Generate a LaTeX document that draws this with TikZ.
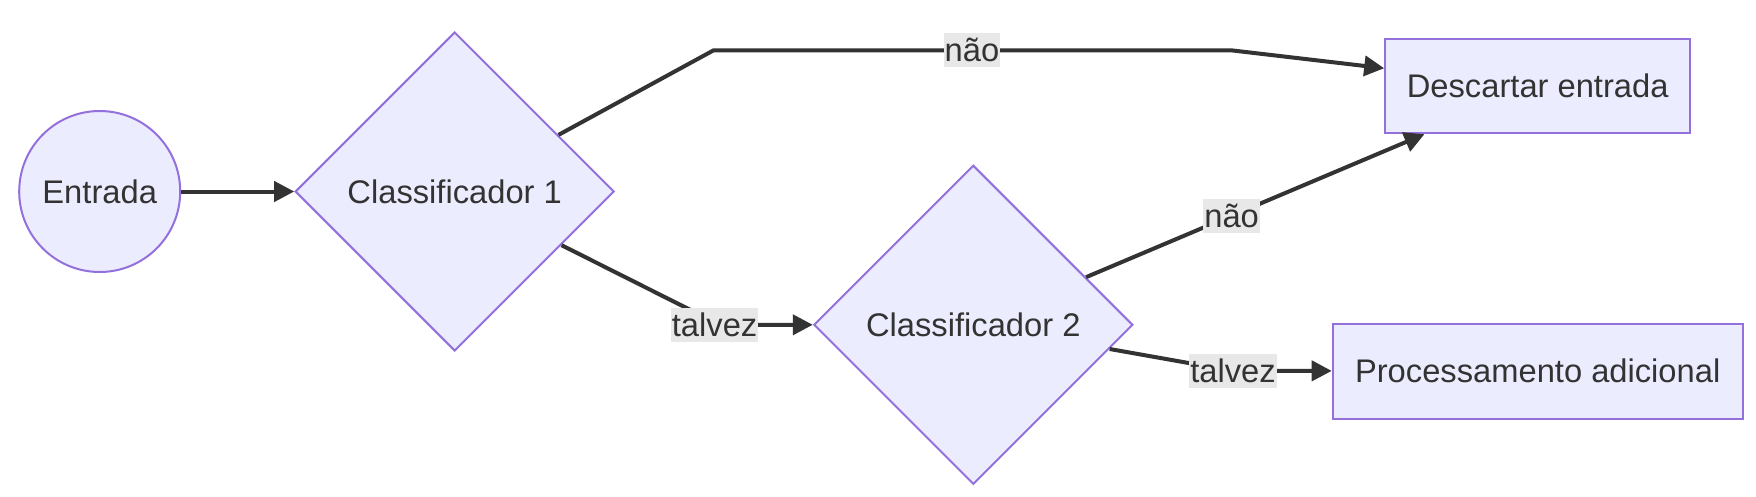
\documentclass[tikz,border=0pt]{standalone}
\usepackage{fontspec}
\setmainfont{Liberation Sans}
\usetikzlibrary{shapes.geometric,arrows.meta,calc}
\definecolor{nodefill}{HTML}{ECECFF}
\definecolor{nodeline}{HTML}{9370DB}
\definecolor{edgeline}{HTML}{333333}
\definecolor{labelbg}{HTML}{E8E8E8}
\begin{document}
\begin{tikzpicture}[x=1pt,y=-1pt,
  every node/.style={font=\fontsize{32.7}{39}\selectfont, text=edgeline},
  box/.style={draw=nodeline, fill=nodefill, line width=2pt, inner sep=0pt},
  rnd/.style={box, circle, minimum size=161pt},
  dia/.style={box, diamond, minimum width=319pt, minimum height=319pt},
  rect/.style={box, rectangle, minimum height=94pt},
  edge/.style={draw=edgeline, line width=4pt, -{Triangle[length=20pt,width=20pt]}},
  lbl/.style={fill=labelbg, inner xsep=1pt, inner ysep=0pt, minimum height=34pt}
]
\useasboundingbox (0,0) rectangle (1756,496);
\fill[white] (0,0) rectangle (1756,496);

\node[rnd] (e) at (99.7,191.5) {Entrada};
\node[dia] (c1) at (454.7,191.5) {Classificador 1};
\node[dia] (c2) at (973.3,324.8) {Classificador 2};
\node[rect, minimum width=305pt] (n1) at (1537.7,86.2) {Descartar entrada};
\node[rect, minimum width=410pt, minimum height=95pt] (n2) at (1537.7,371.3) {Processamento adicional};

\coordinate (b1) at (713.4,50.4);
\coordinate (b2) at (1232,50.4);
\coordinate (b3) at (720,324.8);
\coordinate (b4) at (1232,370.7);

\draw[edge] (e) -- (c1);
\draw[edge] (c1) -- (b1) -- (b2) -- (n1);
\node[lbl] (l1) at (972,50.4) {não};
\draw[edge] (c1) -- (b3) -- (c2);
\node[lbl] (l2) at (714.6,324.8) {talvez};
\draw[edge] (c2) -- node[lbl, pos=0.43] (l3) {não} (n1);
\draw[edge] (c2) -- (b4) -- (n2);
\node[lbl] (l4) at (1233,370.7) {talvez};
\end{tikzpicture}
\end{document}
